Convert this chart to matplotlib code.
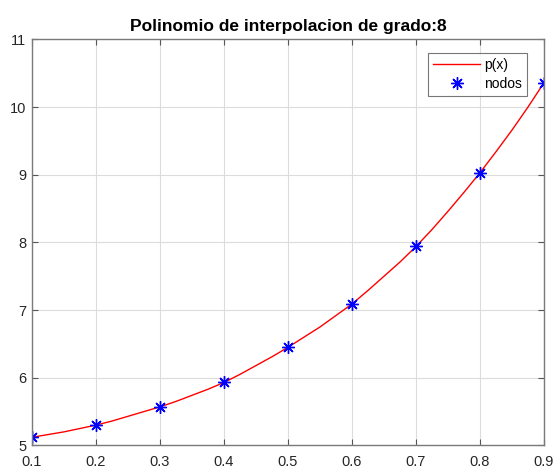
import matplotlib
matplotlib.use("Agg")
import matplotlib.pyplot as plt

plt.rcParams['font.family'] = ['Liberation Sans', 'DejaVu Sans']

# nodes
x_nodes = [0.1, 0.2, 0.3, 0.4, 0.5, 0.6, 0.7, 0.8, 0.9]
y_nodes = [5.12, 5.30, 5.57, 5.93, 6.45, 7.09, 7.94, 9.03, 10.36]

# p(x) curve
x_curve = [0.1, 0.125, 0.15, 0.175, 0.2, 0.225, 0.25, 0.275, 0.3, 0.325, 0.35, 0.375,
           0.4, 0.425, 0.45, 0.475, 0.5, 0.525, 0.55, 0.575, 0.6, 0.625, 0.65, 0.675,
           0.7, 0.725, 0.75, 0.775, 0.8, 0.825, 0.85, 0.875, 0.9]
y_curve = [5.12, 5.16, 5.20, 5.25, 5.30, 5.36, 5.43, 5.50, 5.57, 5.65, 5.74, 5.83,
           5.93, 6.05, 6.18, 6.31, 6.45, 6.60, 6.75, 6.92, 7.09, 7.29, 7.50, 7.71,
           7.94, 8.19, 8.46, 8.74, 9.03, 9.34, 9.66, 10.00, 10.36]

x_ticks = [0.1, 0.2, 0.3, 0.4, 0.5, 0.6, 0.7, 0.8, 0.9]
x_ticklabels = ['0.1', '0.2', '0.3', '0.4', '0.5', '0.6', '0.7', '0.8', '0.9']
y_ticks = [5, 6, 7, 8, 9, 10, 11]
y_ticklabels = ['5', '6', '7', '8', '9', '10', '11']

fig = plt.figure(figsize=(5.55, 4.68), dpi=100)
ax = fig.add_axes([32/555, 1-445.4/468, (544-32)/555, (445.4-39.4)/468])

ax.plot(x_curve, y_curve, color='red', lw=1.0, label='p(x)')
ax.plot(x_nodes, y_nodes, linestyle='none', marker=(8, 2, 0), color='blue',
        markersize=9, markeredgewidth=1.0, label='nodos')

ax.set_xlim(0.1, 0.9)
ax.set_ylim(5, 11)
ax.set_xticks(x_ticks)
ax.set_xticklabels(x_ticklabels)
ax.set_yticks(y_ticks)
ax.set_yticklabels(y_ticklabels)
ax.grid(True, color='#dcdcdc', lw=0.8)
ax.set_axisbelow(True)
for s in ax.spines.values():
    s.set_color('#7a7a7a')
    s.set_linewidth(1.0)
ax.tick_params(direction='in', top=True, right=True, length=4, width=0.8,
               colors='#262626', labelsize=10.5)
ax.tick_params(axis='both', color='#555555')
ax.tick_params(axis='x', pad=7)
ax.tick_params(axis='y', pad=4)

ax.set_title('Polinomio de interpolacion de grado:8', fontsize=12.5, fontweight='bold',
             color='black', pad=6)

leg = ax.legend(loc='upper right', bbox_to_anchor=(0.967, 0.9665), borderaxespad=0,
                fontsize=10, frameon=True, fancybox=False, edgecolor='#555555',
                handlelength=3.4, borderpad=0.35, labelspacing=0.35, handletextpad=0.3)
leg.get_frame().set_linewidth(0.8)

fig.savefig('out.png', dpi=100)
